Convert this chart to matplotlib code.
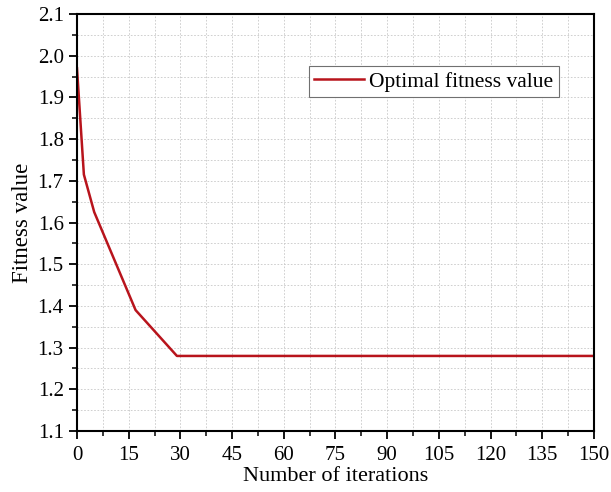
import matplotlib
matplotlib.use("Agg")
import matplotlib.pyplot as plt
from matplotlib.ticker import MultipleLocator

# data
iterations = [0, 2, 5, 17, 29, 150]
fitness = [1.97, 1.715, 1.625, 1.39, 1.28, 1.28]

plt.rcParams['font.family'] = ['Liberation Serif', 'DejaVu Serif']

fig = plt.figure(figsize=(6.11, 4.92), dpi=100)
ax = fig.add_axes([0.126, 0.124, 0.846, 0.8475])

ax.plot(iterations, fitness, color="#b8141c", linewidth=1.8, label="Optimal fitness value")

ax.set_xlim(0, 150)
ax.set_ylim(1.1, 2.1)
ax.xaxis.set_major_locator(MultipleLocator(15))
ax.xaxis.set_minor_locator(MultipleLocator(7.5))
ax.yaxis.set_major_locator(MultipleLocator(0.1))
ax.yaxis.set_minor_locator(MultipleLocator(0.05))
ax.yaxis.set_major_formatter(plt.FormatStrFormatter('%.1f'))

ax.grid(which="both", linestyle=(0, (2, 2)), color="#c8c8c8", linewidth=0.6)
ax.set_axisbelow(True)

ax.tick_params(which="major", direction="out", length=6, width=1.3, labelsize=15)
ax.tick_params(axis="x", which="major", pad=5)
ax.tick_params(which="minor", direction="out", length=3.5, width=1.1)
for s in ax.spines.values():
    s.set_linewidth(1.5)

ax.set_xlabel("Number of iterations", fontsize=16, labelpad=1)
ax.set_ylabel("Fitness value", fontsize=16.5, labelpad=3)

leg = ax.legend(loc="upper right", bbox_to_anchor=(0.932, 0.875), fontsize=15.5,
                frameon=True, fancybox=False, framealpha=1, borderpad=0.25,
                handlelength=2.3, handletextpad=0.25, borderaxespad=0)
leg.get_frame().set_edgecolor("#707070")
leg.get_frame().set_linewidth(0.8)

plt.savefig("out.png", dpi=100)
